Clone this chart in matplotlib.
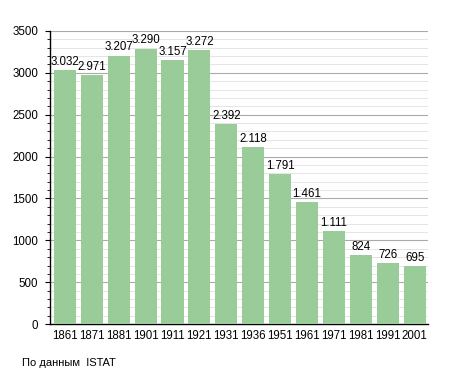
import matplotlib
matplotlib.use('Agg')
import matplotlib.pyplot as plt
from matplotlib.ticker import MultipleLocator

plt.rcParams['font.family'] = ['Liberation Sans', 'DejaVu Sans']

years = ['1861', '1871', '1881', '1901', '1911', '1921', '1931',
         '1936', '1951', '1961', '1971', '1981', '1991', '2001']
population = [3032, 2971, 3207, 3290, 3157, 3272, 2392,
              2118, 1791, 1461, 1111, 824, 726, 695]

fig = plt.figure(figsize=(4.55, 3.73), dpi=100)
ax = fig.add_axes([0.110, 0.131, 0.831, 0.786])

x = range(len(years))
ax.bar(x, population, width=0.82, color='#99cc99', zorder=3)

# подписи над столбцами
for xi, v in zip(x, population):
    label = f'{v:,}'.replace(',', '.')
    ax.text(xi, v + 25, label, ha='center', va='bottom', fontsize=8.3)

ax.set_ylim(0, 3500)
ax.set_xlim(-0.55, len(years) - 0.5)
ax.yaxis.set_major_locator(MultipleLocator(500))
ax.yaxis.set_minor_locator(MultipleLocator(100))
ax.grid(axis='y', which='major', color='#aaaaaa', linewidth=0.8, zorder=0)
ax.grid(axis='y', which='minor', color='#e0e0e0', linewidth=0.6, zorder=0)

ax.set_xticks(list(x))
ax.set_xticklabels(years, fontsize=8.3)
ax.tick_params(axis='x', length=0, pad=4)
ax.tick_params(axis='y', which='major', length=3.5, labelsize=8.3, pad=5)
ax.tick_params(axis='y', which='minor', length=2)

for s in ['top', 'right']:
    ax.spines[s].set_visible(False)
ax.spines['left'].set_linewidth(1)
ax.spines['bottom'].set_linewidth(1)

fig.text(0.048, 0.02, 'По данным  ISTAT', fontsize=8)

fig.savefig('out.png', dpi=100)
